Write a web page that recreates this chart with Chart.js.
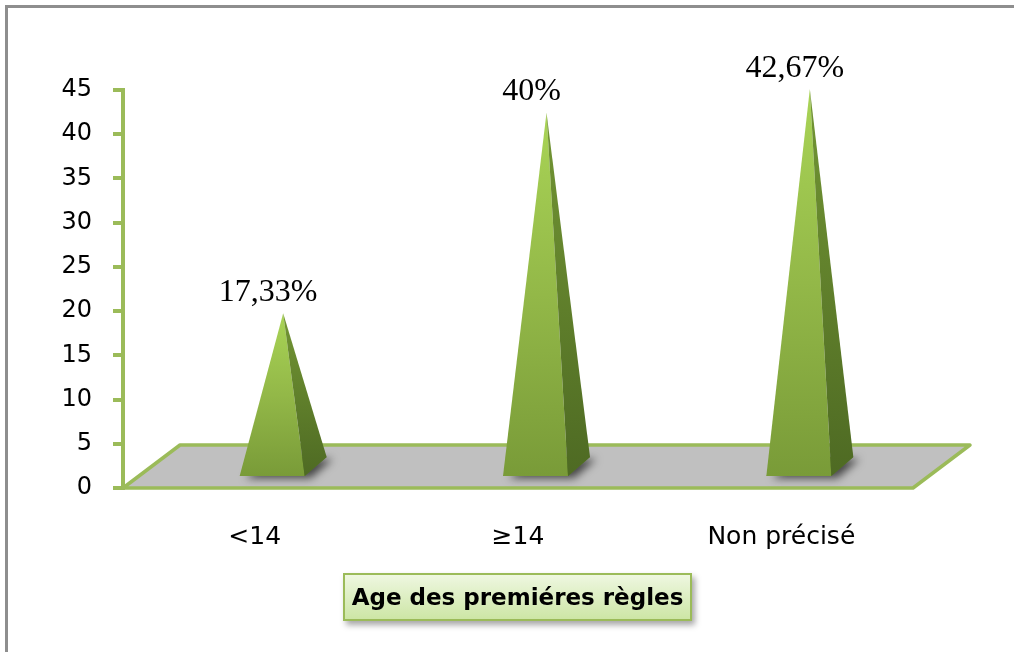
<!DOCTYPE html>
<html lang="fr">
<head>
<meta charset="utf-8">
<title>Age des premiéres règles</title>
<script src="https://cdn.jsdelivr.net/npm/chart.js@4.4.1/dist/chart.umd.min.js"></script>
<style>
  body { margin: 0; background: #fff; }
  #cadre { position: relative; width: 1014px; height: 652px; overflow: hidden; }
  #cadre canvas { position: absolute; left: 0; top: 0; }
  #bord { position: absolute; left: 5px; top: 5px; right: -20px; bottom: -20px;
          border-left: 3px solid #8e8e8e; border-top: 3px solid #8e8e8e; pointer-events: none; }
  #titre { position: absolute; left: 343px; top: 573px; width: 345px; height: 44px;
           border: 2px solid #9bbb59; background: linear-gradient(#eef7e0, #cde6a6);
           box-shadow: 3px 4px 6px rgba(0,0,0,.35);
           font: bold 23px "DejaVu Sans"; line-height: 44px; text-align: center; color: #000; }
</style>
</head>
<body>
<div id="cadre">
  <canvas id="grafica" width="1014" height="652"></canvas>
  <div id="bord"></div>
  <div id="titre">Age des premiéres règles</div>
</div>
<script>
// données
const categories = ['<14', '≥14', 'Non précisé']
const pourcentages = [17.33, 40, 42.67]
const echelleY = [0, 45, 5] // min, max, pas

// profondeur du sol 3D (décalage du bord arrière)
const profX = 57
const profY = -43

function etiquette(v) {
  return String(v).replace('.', ',') + '%'
}

// sol gris + pyramides dessinés à partir des échelles
const pyramides = {
  id: 'pyramides',
  beforeDatasetsDraw(chart) {
    const { ctx, chartArea: a, scales: { y } } = chart
    const y0 = y.getPixelForValue(0)
    ctx.save()
    ctx.beginPath()
    ctx.moveTo(a.left, y0)
    ctx.lineTo(a.right, y0)
    ctx.lineTo(a.right + profX, y0 + profY)
    ctx.lineTo(a.left + profX, y0 + profY)
    ctx.closePath()
    ctx.fillStyle = '#c0c0c0'
    ctx.fill()
    ctx.strokeStyle = '#9bbb59'
    ctx.lineWidth = 3.5
    ctx.lineJoin = 'round'
    ctx.stroke()
    ctx.restore()
  },
  afterDatasetsDraw(chart) {
    const { ctx, scales: { y } } = chart
    const meta = chart.getDatasetMeta(0)
    const valeurs = chart.data.datasets[0].data
    const y0 = y.getPixelForValue(0)
    const w = 32.5, dx = 22, dy = -19

    meta.data.forEach((bar, i) => {
      const v = valeurs[i]
      const bx = bar.x + profX / 2
      const by = y0 + profY / 2
      const tx = bx
      const ty = y.getPixelForValue(v) + profY / 2

      const FL = [bx - w - dx / 2, by - dy / 2]
      const FR = [bx + w - dx / 2, by - dy / 2]
      const BR = [bx + w + dx / 2, by + dy / 2]
      const BL = [bx - w + dx / 2, by + dy / 2]

      ctx.save()
      // ombre portée sur le sol
      ctx.beginPath()
      ctx.moveTo(...FL); ctx.lineTo(...FR); ctx.lineTo(...BR); ctx.lineTo(...BL)
      ctx.closePath()
      ctx.shadowColor = 'rgba(0,0,0,0.65)'
      ctx.shadowBlur = 9
      ctx.shadowOffsetX = 6
      ctx.shadowOffsetY = 2
      ctx.fillStyle = '#5a7a2a'
      ctx.fill()
      ctx.restore()

      ctx.save()
      // face avant
      let g = ctx.createLinearGradient(0, ty, 0, FL[1])
      g.addColorStop(0, '#a9d456')
      g.addColorStop(0.5, '#93b848')
      g.addColorStop(1, '#799b38')
      ctx.beginPath()
      ctx.moveTo(...FL); ctx.lineTo(...FR); ctx.lineTo(tx, ty)
      ctx.closePath()
      ctx.fillStyle = g
      ctx.fill()

      // face latérale droite
      g = ctx.createLinearGradient(0, ty, 0, FR[1])
      g.addColorStop(0, '#739634')
      g.addColorStop(1, '#4e6a23')
      ctx.beginPath()
      ctx.moveTo(...FR); ctx.lineTo(...BR); ctx.lineTo(tx, ty)
      ctx.closePath()
      ctx.fillStyle = g
      ctx.fill()

      // valeur au-dessus de la pointe
      ctx.fillStyle = '#000'
      ctx.font = '32px "Liberation Serif"'
      ctx.textAlign = 'center'
      ctx.textBaseline = 'middle'
      ctx.fillText(etiquette(v), tx - 15, ty - 21)
      ctx.restore()
    })
  }
}

const canvas = document.querySelector('#grafica')
const myChart = new Chart(canvas, {
  type: 'bar',
  data: {
    labels: categories,
    datasets: [{
      data: pourcentages,
      backgroundColor: 'rgba(0,0,0,0)',
      borderWidth: 0
    }]
  },
  options: {
    responsive: false,
    animation: false,
    events: [],
    layout: { padding: { left: 0, right: 101, top: 90, bottom: 0 } },
    plugins: { legend: { display: false }, tooltip: { enabled: false } },
    scales: {
      x: {
        afterFit: (s) => { s.height = 164 },
        grid: { display: false, drawTicks: false, tickLength: 0 },
        border: { display: false },
        ticks: { color: '#000', padding: 34, font: { family: 'DejaVu Sans', size: 25 } }
      },
      y: {
        min: echelleY[0],
        max: echelleY[1],
        afterFit: (s) => { s.width = 123 },
        border: { color: '#9bbb59', width: 4 },
        grid: { drawOnChartArea: false, drawTicks: true, tickLength: 10, color: '#9bbb59', lineWidth: 4 },
        ticks: { stepSize: echelleY[2], color: '#000', padding: 21, font: { family: 'DejaVu Sans', size: 24 } }
      }
    }
  },
  plugins: [pyramides]
})
</script>
</body>
</html>
